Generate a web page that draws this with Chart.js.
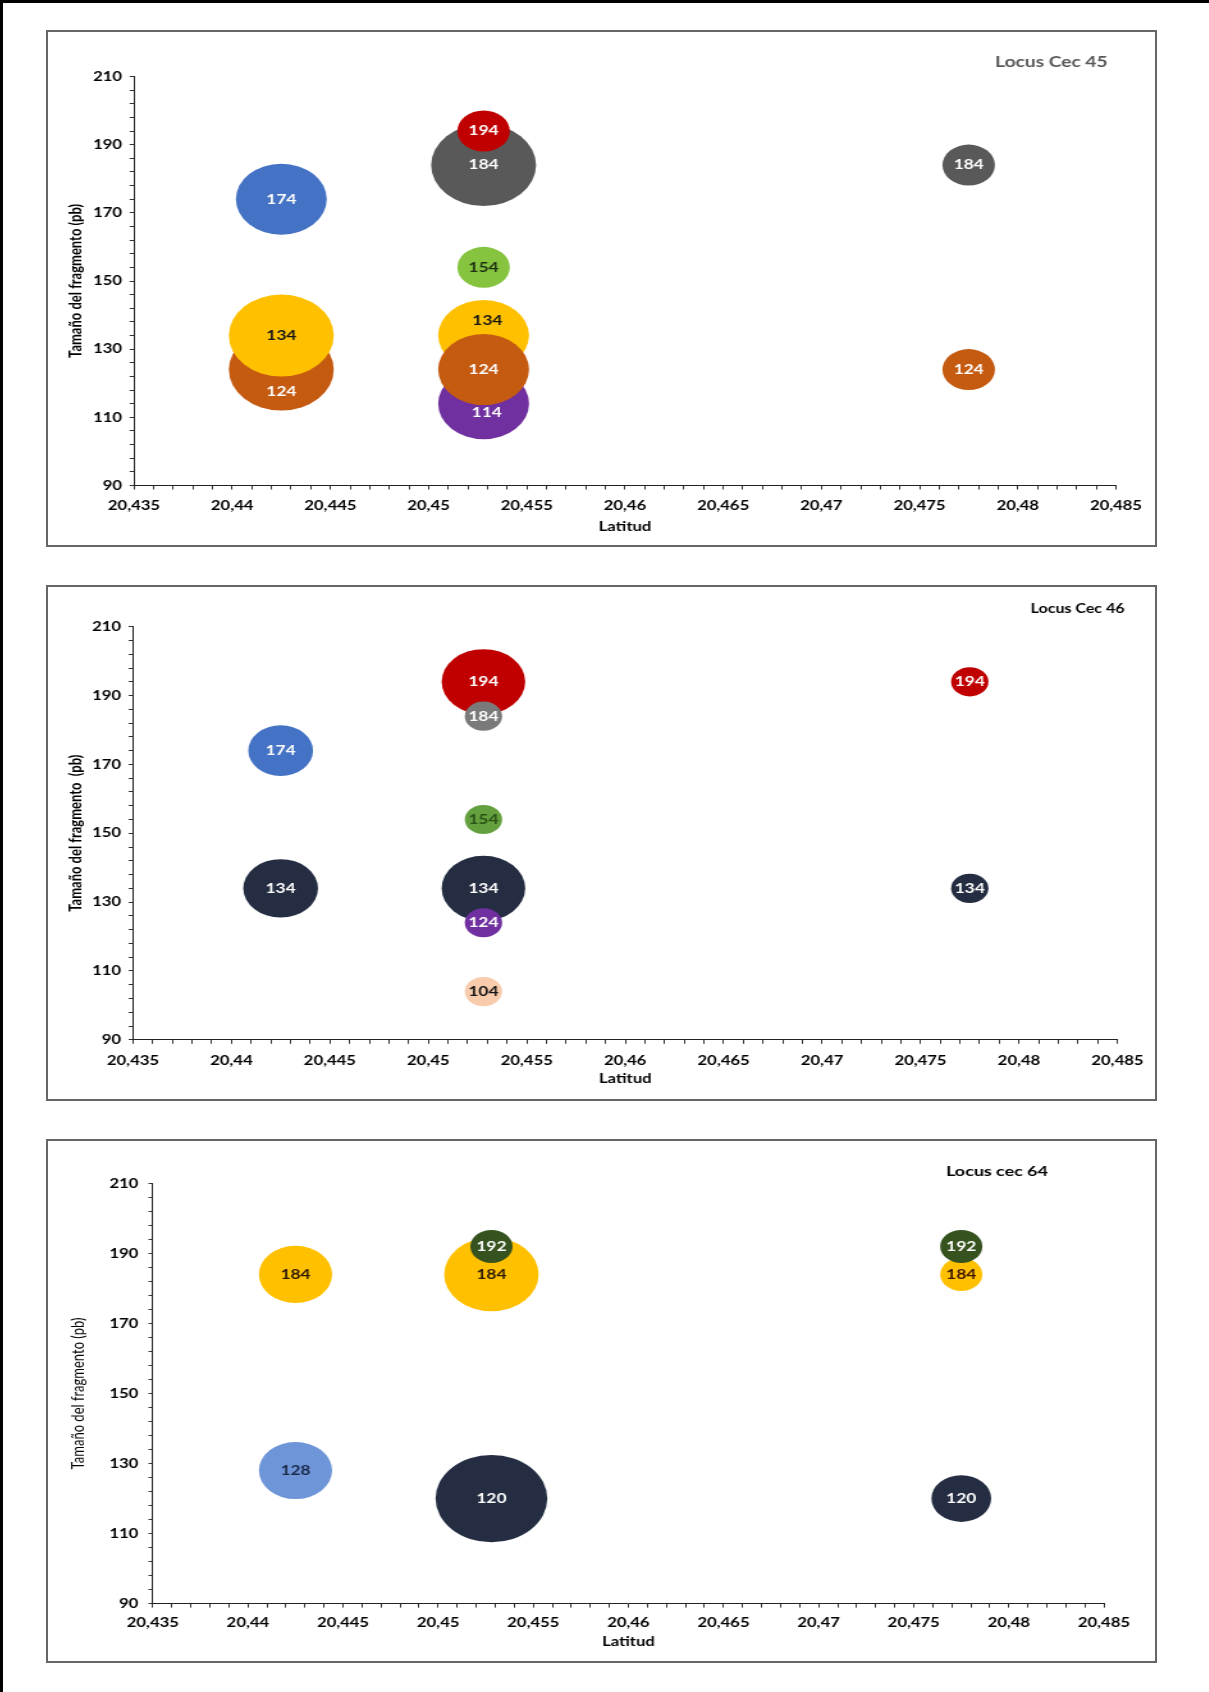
<!DOCTYPE html>
<html lang="es">
<head>
<meta charset="utf-8">
<title>Tamaño del fragmento por latitud — Locus Cec 45, Cec 46, cec 64</title>
<script src="https://cdn.jsdelivr.net/npm/chart.js@4.4.1/dist/chart.umd.min.js"></script>
<style>
  html, body { margin: 0; padding: 0; background: #fff; }
  body { width: 1209px; height: 1692px; position: relative; overflow: hidden; }
  .frame { position: absolute; left: 0; top: 0; width: 1209px; height: 1692px;
           border-top: 3px solid #000; border-left: 3px solid #000; box-sizing: border-box; }
  .panel { position: absolute; left: 46px; width: 1111px; box-sizing: border-box;
           border: 2px solid #666; background: #fff; overflow: hidden; }
  .stretch { position: absolute; left: 0; top: 0; transform-origin: 0 0; }
  canvas { display: block; }
</style>
</head>
<body>
<div class="frame"></div>
<div class="panel" id="p45" style="top:30px;height:517px;"><div class="stretch"><canvas id="c45" width="865" height="513"></canvas></div></div>
<div class="panel" id="p46" style="top:585px;height:516px;"><div class="stretch"><canvas id="c46" width="865" height="512"></canvas></div></div>
<div class="panel" id="p64" style="top:1139px;height:524px;"><div class="stretch"><canvas id="c64" width="865" height="520"></canvas></div></div>

<script>
// ---------------------------------------------------------------
// Data: allele sizes (pb) found at each latitude, with the number
// of individuals carrying them (bubble area is proportional to it)
// ---------------------------------------------------------------
const latitudeTickLabels = ['20,435', '20,44', '20,445', '20,45', '20,455', '20,46',
                            '20,465', '20,47', '20,475', '20,48', '20,485'];
const sizeTickLabels = ['90', '110', '130', '150', '170', '190', '210'];

// Locus Cec 45
const cec45Latitude = [20.4425, 20.4425, 20.4425, 20.4528, 20.4528, 20.4528, 20.4528, 20.4528, 20.4528, 20.4775, 20.4775];
const cec45Allele   = [174, 124, 134, 184, 194, 154, 134, 114, 124, 184, 124];
const cec45Count    = [3, 4, 4, 4, 1, 1, 3, 3, 3, 1, 1];

// Locus Cec 46
const cec46Latitude = [20.4425, 20.4425, 20.4528, 20.4528, 20.4528, 20.4528, 20.4528, 20.4528, 20.4775, 20.4775];
const cec46Allele   = [174, 134, 194, 184, 154, 134, 124, 104, 194, 134];
const cec46Count    = [3, 4, 5, 1, 1, 5, 1, 1, 1, 1];

// Locus cec 64
const cec64Latitude = [20.4425, 20.4425, 20.4528, 20.4528, 20.4528, 20.4775, 20.4775, 20.4775];
const cec64Allele   = [184, 128, 184, 192, 120, 184, 192, 120];
const cec64Count    = [3, 3, 5, 1, 7, 1, 1, 2];

// ---------------------------------------------------------------
// Styles
// ---------------------------------------------------------------
const BLUE = '#4472C4', ORANGE = '#C55A11', YELLOW = '#FFC000', GREY = '#595959',
      RED = '#C00000', LIME = '#86C440', PURPLE = '#7030A0', NAVY = '#242D42',
      GREY2 = '#7A7A7A', GREEN = '#64A03E', PEACH = '#F8CBAD', SKY = '#6E95D8',
      DKGREEN = '#36531F';
const W = '#ffffff', INK = '#141414';

const cec45Colors = [BLUE, ORANGE, YELLOW, GREY, RED, LIME, YELLOW, PURPLE, ORANGE, GREY, ORANGE];
const cec45Ink    = [W, W, INK, W, W, '#1d3011', INK, W, W, W, W];
const cec45Shift  = [[0,0],[0,22],[0,0],[0,0],[0,0],[0,0],[3,-15],[2.5,8.5],[0,0],[0,0],[0,0]];

const cec46Colors = [BLUE, NAVY, RED, GREY2, GREEN, NAVY, PURPLE, PEACH, RED, NAVY];
const cec46Ink    = [W, W, W, W, '#2a5216', W, W, INK, W, W];
const cec46Shift  = cec46Allele.map(() => [0, 0]);

const cec64Colors = [YELLOW, SKY, YELLOW, DKGREEN, NAVY, YELLOW, DKGREEN, NAVY];
const cec64Ink    = ['#2a1800', '#1b2a4a', '#2a1800', W, W, '#3a1400', W, W];
const cec64Shift  = cec64Allele.map(() => [0, 0]);

// horizontal stretch of every panel (drawn narrow, displayed wide)
const STRETCH = 1107 / 865;

Chart.defaults.font.family = 'Lato, "Open Sans", sans-serif';
Chart.defaults.color = '#000';

// Panel heading drawn inside the plot frame
const panelTitle = {
  id: 'panelTitle',
  afterDraw(chart, args, o) {
    const ctx = chart.ctx;
    ctx.save();
    ctx.font = `bold ${o.size}px Lato, sans-serif`;
    ctx.fillStyle = o.color;
    ctx.textAlign = 'center';
    ctx.textBaseline = 'middle';
    ctx.fillText(o.text, o.x, o.y);
    ctx.restore();
  }
};

// Value written on each bubble
const bubbleLabels = {
  id: 'bubbleLabels',
  afterDatasetsDraw(chart, args, o) {
    const ctx = chart.ctx;
    const ds = chart.data.datasets[0];
    const meta = chart.getDatasetMeta(0);
    ctx.save();
    ctx.font = `bold ${o.size}px Lato, sans-serif`;
    ctx.textAlign = 'center';
    ctx.textBaseline = 'middle';
    meta.data.forEach((el, i) => {
      const s = o.shift[i] || [0, 0];
      ctx.fillStyle = o.ink[i];
      ctx.fillText(String(ds.data[i].y), el.x + s[0], el.y + s[1]);
    });
    ctx.restore();
  }
};

function labelValue(t) { return parseFloat(t.replace(',', '.')); }

// major ticks from the label lists, four minor ticks between each pair
function tickList(labels) {
  const majors = labels.map(labelValue);
  const out = [];
  for (let i = 0; i < majors.length; i++) {
    out.push({ value: majors[i] });
    if (i < majors.length - 1) {
      for (let k = 1; k < 5; k++) out.push({ value: majors[i] + (majors[i + 1] - majors[i]) * k / 5 });
    }
  }
  return out;
}

function makeChart(id, d, g) {
  const wrap = document.getElementById(id).parentNode;
  wrap.style.transform = `scaleX(${STRETCH})`;
  const points = d.lat.map((x, i) => ({ x, y: d.allele[i], r: g.bubbleScale * Math.sqrt(d.count[i]) }));
  return new Chart(document.getElementById(id), {
    type: 'bubble',
    data: { datasets: [{ data: points, backgroundColor: d.colors, borderWidth: 0, hoverBorderWidth: 0, clip: false }] },
    options: {
      responsive: false,
      devicePixelRatio: 1,
      animation: false,
      events: [],
      layout: { autoPadding: false, padding: { left: 0, top: g.top, right: g.right, bottom: 0 } },
      plugins: {
        legend: { display: false },
        tooltip: { enabled: false },
        panelTitle: g.title,
        bubbleLabels: { size: 13.5, ink: d.ink, shift: d.shift }
      },
      scales: {
        x: {
          type: 'linear',
          min: labelValue(latitudeTickLabels[0]),
          max: labelValue(latitudeTickLabels[latitudeTickLabels.length - 1]),
          afterBuildTicks: s => { s.ticks = tickList(latitudeTickLabels); },
          afterFit: s => { s.height = g.xHeight; },
          border: { display: true, color: '#222', width: 1 },
          grid: { drawOnChartArea: false, drawTicks: true, tickLength: 4, tickColor: '#333', tickWidth: 1 },
          ticks: {
            autoSkip: false, minRotation: 0, maxRotation: 0, padding: g.xTickPad,
            color: '#000', font: { size: 13, weight: 'bold' },
            callback: (v, i) => (i % 5 === 0 ? latitudeTickLabels[i / 5] : '')
          },
          title: { display: true, text: 'Latitud', color: '#000',
                   font: { size: 13, weight: 'bold' }, padding: { top: 0, bottom: g.xTitlePad } }
        },
        y: {
          type: 'linear',
          min: labelValue(sizeTickLabels[0]),
          max: labelValue(sizeTickLabels[sizeTickLabels.length - 1]),
          afterBuildTicks: s => { s.ticks = tickList(sizeTickLabels); },
          afterFit: s => { s.width = g.yWidth; },
          border: { display: true, color: '#222', width: 1 },
          grid: { drawOnChartArea: false, drawTicks: true, tickLength: 3.4, tickColor: '#333', tickWidth: 1 },
          ticks: {
            autoSkip: false, padding: g.yTickPad,
            color: '#000', font: { size: 13, weight: 'bold' },
            callback: (v, i) => (i % 5 === 0 ? sizeTickLabels[i / 5] : '')
          },
          title: { display: true, text: g.yTitle, color: '#000',
                   font: { size: 13, weight: g.yTitleWeight }, padding: { top: g.yTitlePad, bottom: 0 } }
        }
      }
    },
    plugins: [panelTitle, bubbleLabels]
  });
}

makeChart('c45',
  { lat: cec45Latitude, allele: cec45Allele, count: cec45Count, colors: cec45Colors, ink: cec45Ink, shift: cec45Shift },
  { bubbleScale: 20.5, top: 44.5, right: 30.5, yWidth: 67.2, xHeight: 59.5, xTickPad: 9, xTitlePad: 10.5, yTitlePad: 14,
    yTickPad: 6, yTitle: 'Tamaño del fragmento (pb)', yTitleWeight: 'bold',
    title: { text: 'Locus Cec 45', x: 784, y: 30, size: 15, color: '#595959' } });

makeChart('c46',
  { lat: cec46Latitude, allele: cec46Allele, count: cec46Count, colors: cec46Colors, ink: cec46Ink, shift: cec46Shift },
  { bubbleScale: 14.6, top: 39.7, right: 28.9, yWidth: 66.4, xHeight: 59.2, xTickPad: 9, xTitlePad: 12, yTitlePad: 14,
    yTickPad: 6, yTitle: 'Tamaño del fragmento  (pb)', yTitleWeight: 'bold',
    title: { text: 'Locus Cec 46', x: 804.5, y: 22, size: 12.5, color: '#000' } });

makeChart('c64',
  { lat: cec64Latitude, allele: cec64Allele, count: cec64Count, colors: cec64Colors, ink: cec64Ink, shift: cec64Shift },
  { bubbleScale: 16.5, top: 42.4, right: 39.9, yWidth: 81.9, xHeight: 57.4, xTickPad: 7.5, xTitlePad: 11.5, yTitlePad: 16,
    yTickPad: 8, yTitle: 'Tamaño del fragmento (pb)', yTitleWeight: 'normal',
    title: { text: 'Locus cec 64', x: 741.5, y: 30.3, size: 14, color: '#000' } });
</script>
</body>
</html>
